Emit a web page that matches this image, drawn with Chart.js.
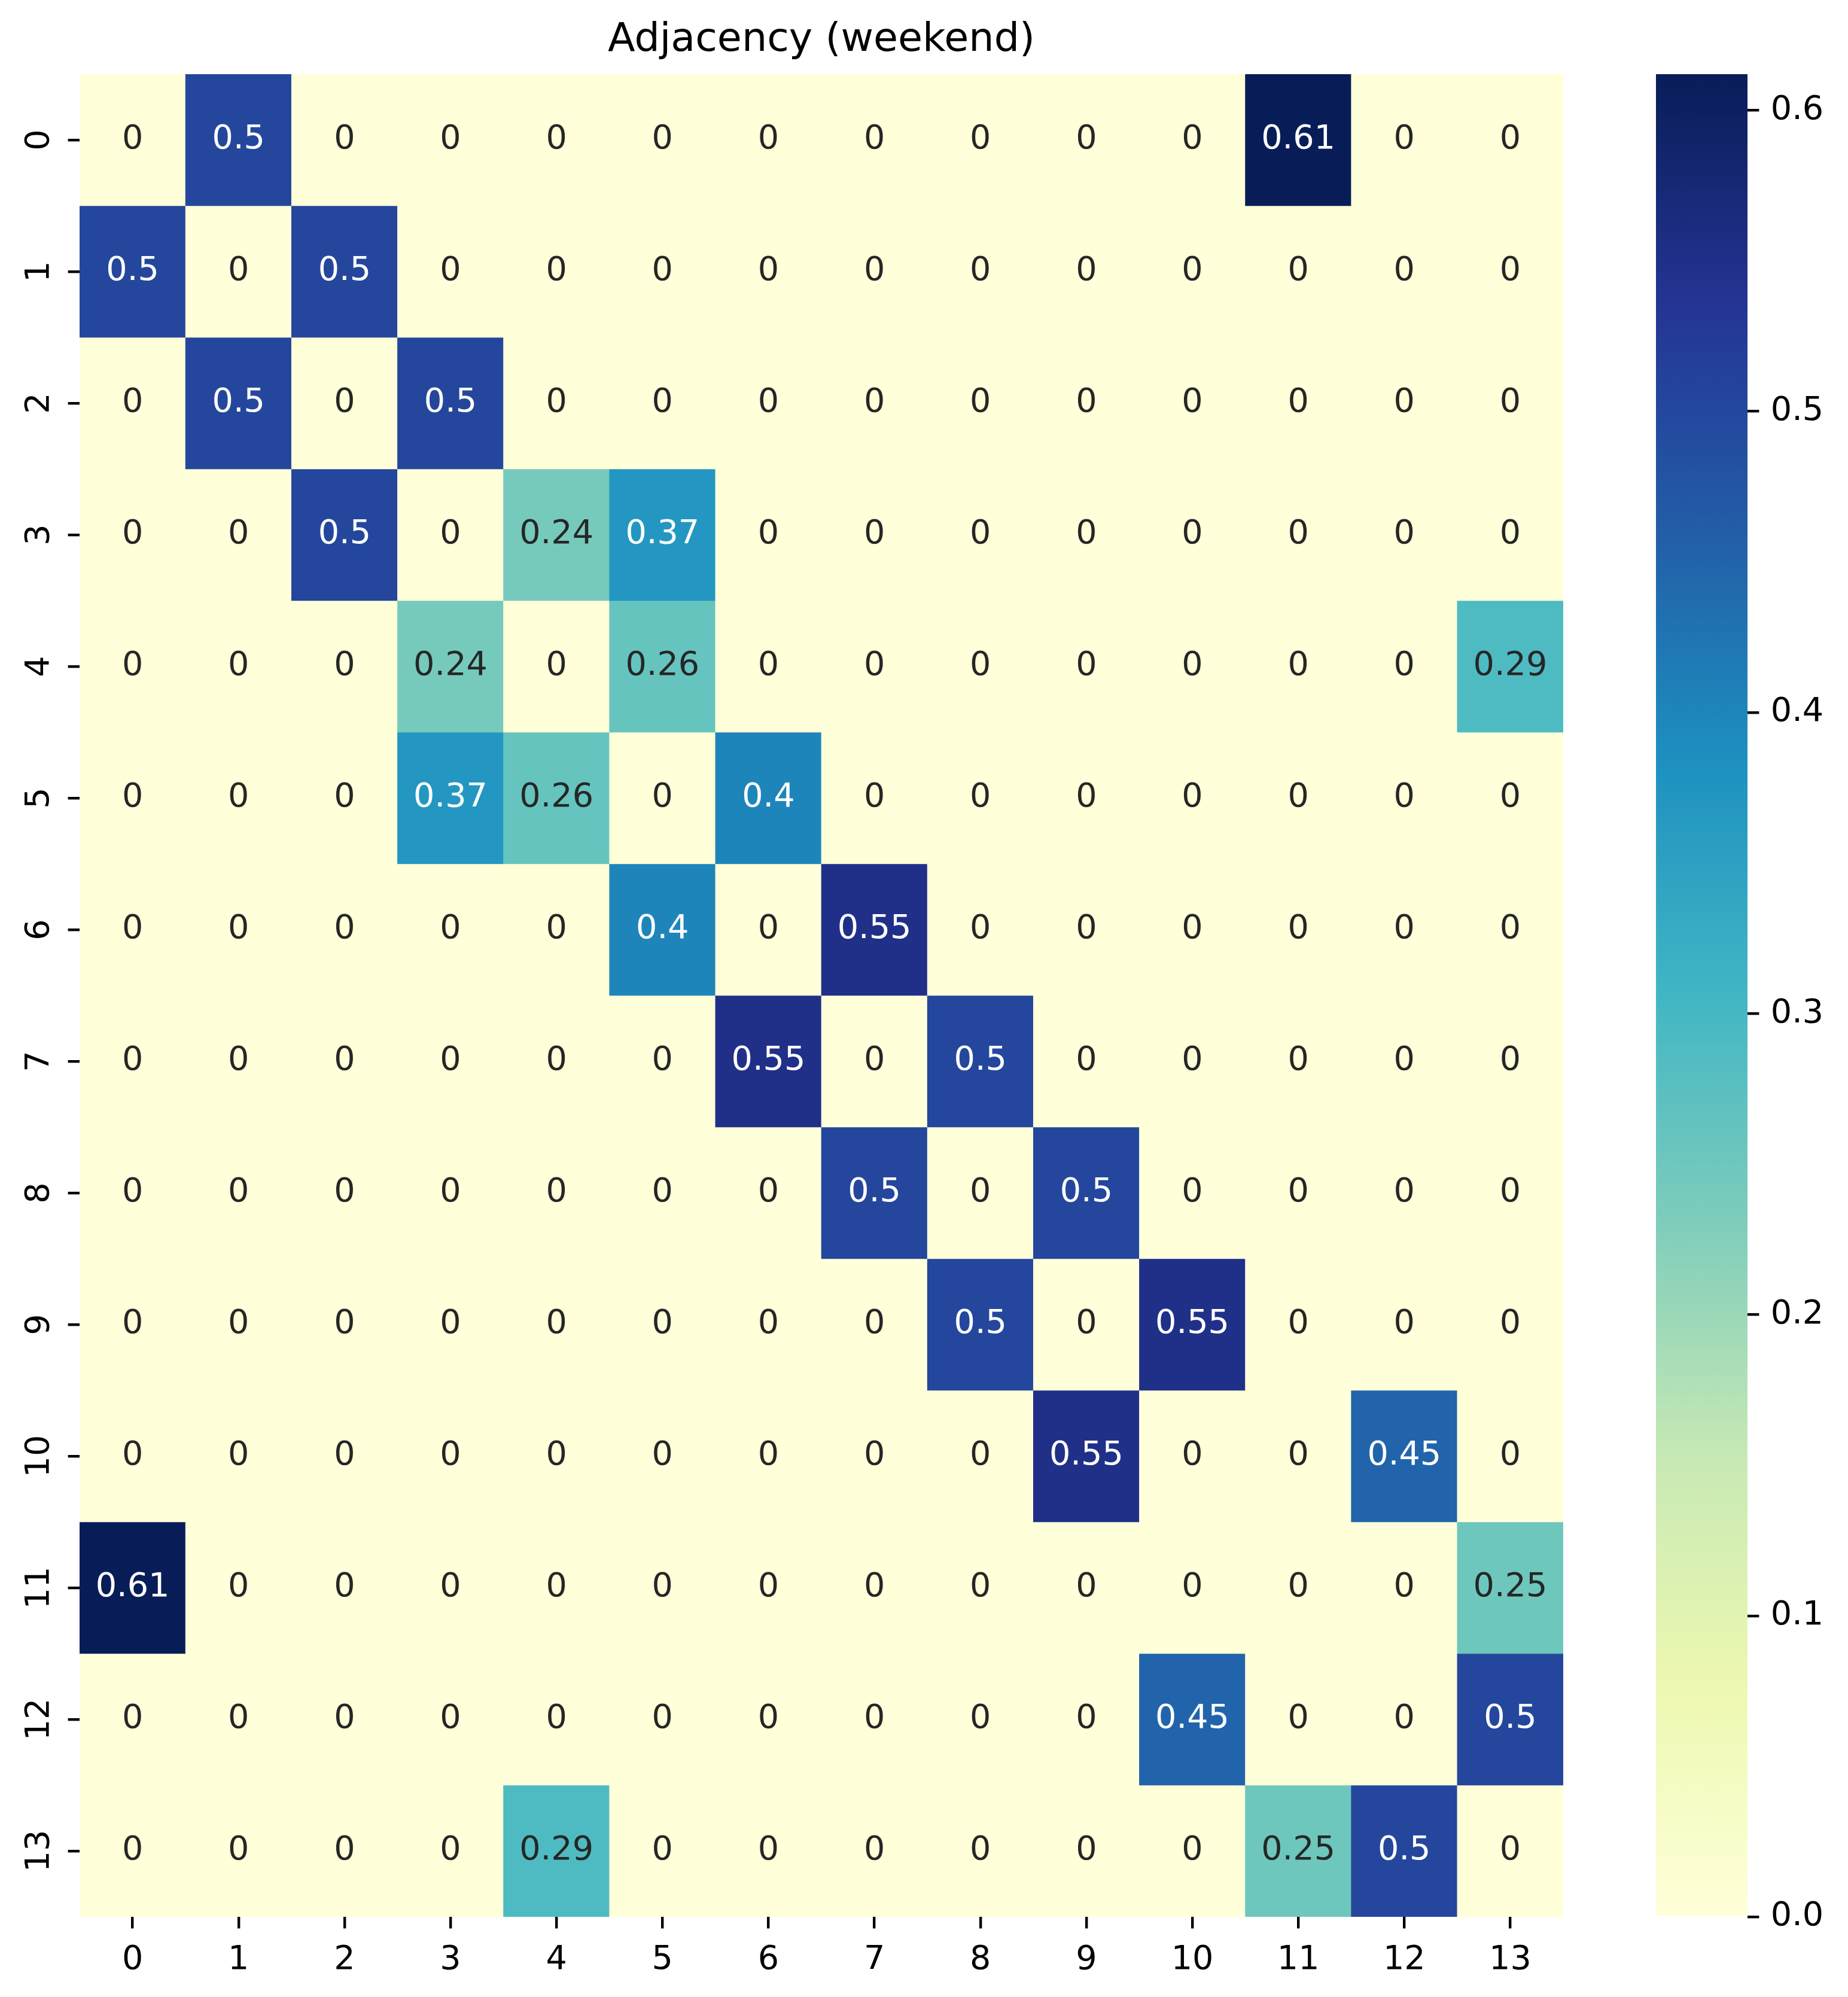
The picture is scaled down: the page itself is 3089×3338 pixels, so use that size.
<!DOCTYPE html>
<html><head><meta charset="utf-8">
<script src="https://cdn.jsdelivr.net/npm/chart.js@4.4.0/dist/chart.umd.min.js"></script>
<style>
html,body{margin:0;padding:0;background:#fff;}
#wrap{position:relative;width:3089px;height:3338px;background:#fff;}
#heat{position:absolute;left:0;top:0;}
#cbar{position:absolute;left:2700px;top:0;}
</style></head><body>
<div id="wrap">
<canvas id="heat" width="3089" height="3338"></canvas>
<canvas id="cbar" width="389" height="3338"></canvas>
</div>
<script>
// ---- data ----
const chartTitle = 'Adjacency (weekend)';
const colLabels = ['0','1','2','3','4','5','6','7','8','9','10','11','12','13'];
const rowLabels = ['0','1','2','3','4','5','6','7','8','9','10','11','12','13'];
const row0  = [0, 0.5, 0, 0, 0, 0, 0, 0, 0, 0, 0, 0.612, 0, 0];
const row1  = [0.5, 0, 0.5, 0, 0, 0, 0, 0, 0, 0, 0, 0, 0, 0];
const row2  = [0, 0.5, 0, 0.5, 0, 0, 0, 0, 0, 0, 0, 0, 0, 0];
const row3  = [0, 0, 0.5, 0, 0.24, 0.37, 0, 0, 0, 0, 0, 0, 0, 0];
const row4  = [0, 0, 0, 0.24, 0, 0.26, 0, 0, 0, 0, 0, 0, 0, 0.29];
const row5  = [0, 0, 0, 0.37, 0.26, 0, 0.4, 0, 0, 0, 0, 0, 0, 0];
const row6  = [0, 0, 0, 0, 0, 0.4, 0, 0.55, 0, 0, 0, 0, 0, 0];
const row7  = [0, 0, 0, 0, 0, 0, 0.55, 0, 0.5, 0, 0, 0, 0, 0];
const row8  = [0, 0, 0, 0, 0, 0, 0, 0.5, 0, 0.5, 0, 0, 0, 0];
const row9  = [0, 0, 0, 0, 0, 0, 0, 0, 0.5, 0, 0.55, 0, 0, 0];
const row10 = [0, 0, 0, 0, 0, 0, 0, 0, 0, 0.55, 0, 0, 0.45, 0];
const row11 = [0.612, 0, 0, 0, 0, 0, 0, 0, 0, 0, 0, 0, 0, 0.25];
const row12 = [0, 0, 0, 0, 0, 0, 0, 0, 0, 0, 0.45, 0, 0, 0.5];
const row13 = [0, 0, 0, 0, 0.29, 0, 0, 0, 0, 0, 0, 0.25, 0.5, 0];
const colorbarTicks = [0, 0.1, 0.2, 0.3, 0.4, 0.5, 0.6];

const matrix = [row0,row1,row2,row3,row4,row5,row6,row7,row8,row9,row10,row11,row12,row13];
const vmin = 0;
const vmax = Math.max(...matrix.flat());

// ---- colormap (YlGnBu) ----
const YLGNBU = [[255,255,217],[237,248,177],[199,233,180],[127,205,187],[65,182,196],[29,145,192],[34,94,168],[37,52,148],[8,29,88]];
function cmapRGB(t){
  t = Math.max(0, Math.min(1, t));
  const p = t * 8, k = Math.min(7, Math.floor(p)), f = p - k;
  const a = YLGNBU[k], b = YLGNBU[k+1];
  return [0,1,2].map(c => Math.round(a[c] + (b[c]-a[c]) * f));
}
const rgbStr = c => `rgb(${c[0]},${c[1]},${c[2]})`;
function luminance(c){
  const l = c.map(v => { v /= 255; return v <= 0.03928 ? v/12.92 : Math.pow((v+0.055)/1.055, 2.4); });
  return 0.2126*l[0] + 0.7152*l[1] + 0.0722*l[2];
}
const norm = v => (v - vmin) / (vmax - vmin);
const fmt = v => v === 0 ? '0' : String(parseFloat(v.toPrecision(2)));

const FONT = 'DejaVu Sans';
const FS = 55.6;
const TICKLEN = 19.4, TICKW = 4.4, PAD = 19.4;
Chart.defaults.font.family = FONT;

const datasets = matrix.map((row, i) => ({
  label: rowLabels[i],
  data: row.map(() => [i, i + 1]),
  backgroundColor: row.map(v => rgbStr(cmapRGB(norm(v)))),
  borderWidth: 0,
  grouped: false,
  barPercentage: 1,
  categoryPercentage: 1
}));

const annot = {
  id: 'annot',
  afterDatasetsDraw(chart){
    const {ctx, scales: {x, y}} = chart;
    ctx.save();
    ctx.font = `${FS}px "${FONT}"`;
    ctx.textAlign = 'center';
    ctx.textBaseline = 'middle';
    matrix.forEach((row, i) => row.forEach((v, j) => {
      const c = cmapRGB(norm(v));
      ctx.fillStyle = luminance(c) > 0.408 ? '#262626' : '#ffffff';
      ctx.fillText(fmt(v), x.getPixelForValue(j), y.getPixelForValue(i + 0.5));
    }));
    ctx.restore();
  }
};

new Chart(document.getElementById('heat'), {
  type: 'bar',
  data: { labels: colLabels, datasets },
  options: {
    responsive: false, animation: false, devicePixelRatio: 1, events: [],
    layout: { padding: { left: 0, right: 476, top: 0, bottom: 0 } },
    plugins: {
      legend: { display: false },
      tooltip: { enabled: false },
      title: {
        display: true, text: chartTitle, color: '#000', fullSize: false,
        font: { size: 66.7, weight: 'normal', family: FONT, lineHeight: 1.2 },
        padding: { top: 28, bottom: 16 }
      }
    },
    scales: {
      x: {
        type: 'category', position: 'bottom', offset: true,
        grid: { display: true, drawOnChartArea: false, drawTicks: true, tickLength: TICKLEN, tickWidth: TICKW, lineWidth: TICKW, tickColor: '#000', offset: false },
        border: { display: false },
        ticks: { color: '#000', font: { size: FS }, padding: PAD, minRotation: 0, maxRotation: 0, autoSkip: false },
        afterFit: s => { s.height = 134; }
      },
      y: {
        type: 'linear', position: 'left', min: 0, max: rowLabels.length, reverse: true,
        afterBuildTicks: s => { s.ticks = rowLabels.map((_, i) => ({ value: i + 0.5 })); },
        grid: { display: true, drawOnChartArea: false, drawTicks: true, tickLength: TICKLEN, tickWidth: TICKW, lineWidth: TICKW, tickColor: '#000' },
        border: { display: false },
        ticks: { color: '#000', font: { size: FS }, padding: 12, minRotation: 90, maxRotation: 90, crossAlign: 'center', autoSkip: false,
                 callback: (v, i) => rowLabels[i] },
        afterFit: s => { s.width = 133; }
      }
    }
  },
  plugins: [annot]
});

new Chart(document.getElementById('cbar'), {
  type: 'bar',
  data: {
    labels: [''],
    datasets: [{
      data: [[vmin, vmax]],
      backgroundColor: (c) => {
        const ch = c.chart, y = ch.scales.y;
        if (!ch.chartArea || !y) return rgbStr(YLGNBU[4]);
        const g = ch.ctx.createLinearGradient(0, y.getPixelForValue(vmin), 0, y.getPixelForValue(vmax));
        YLGNBU.forEach((col, k) => g.addColorStop(k / 8, rgbStr(col)));
        return g;
      },
      borderWidth: 0, barPercentage: 1, categoryPercentage: 1
    }]
  },
  options: {
    responsive: false, animation: false, devicePixelRatio: 1, events: [],
    layout: { padding: { left: 68, right: 0, top: 124, bottom: 134 } },
    plugins: { legend: { display: false }, tooltip: { enabled: false }, title: { display: false } },
    scales: {
      x: { display: false },
      y: {
        type: 'linear', position: 'right', min: vmin, max: vmax,
        afterBuildTicks: s => { s.ticks = colorbarTicks.map(v => ({ value: v })); },
        grid: { display: true, drawOnChartArea: false, drawTicks: true, tickLength: TICKLEN, tickWidth: TICKW, lineWidth: TICKW, tickColor: '#000' },
        border: { display: false },
        ticks: { color: '#000', font: { size: FS }, padding: PAD, autoSkip: false, callback: (v) => v.toFixed(1) },
        afterFit: s => { s.width = 168; }
      }
    }
  }
});
</script>
</body></html>
